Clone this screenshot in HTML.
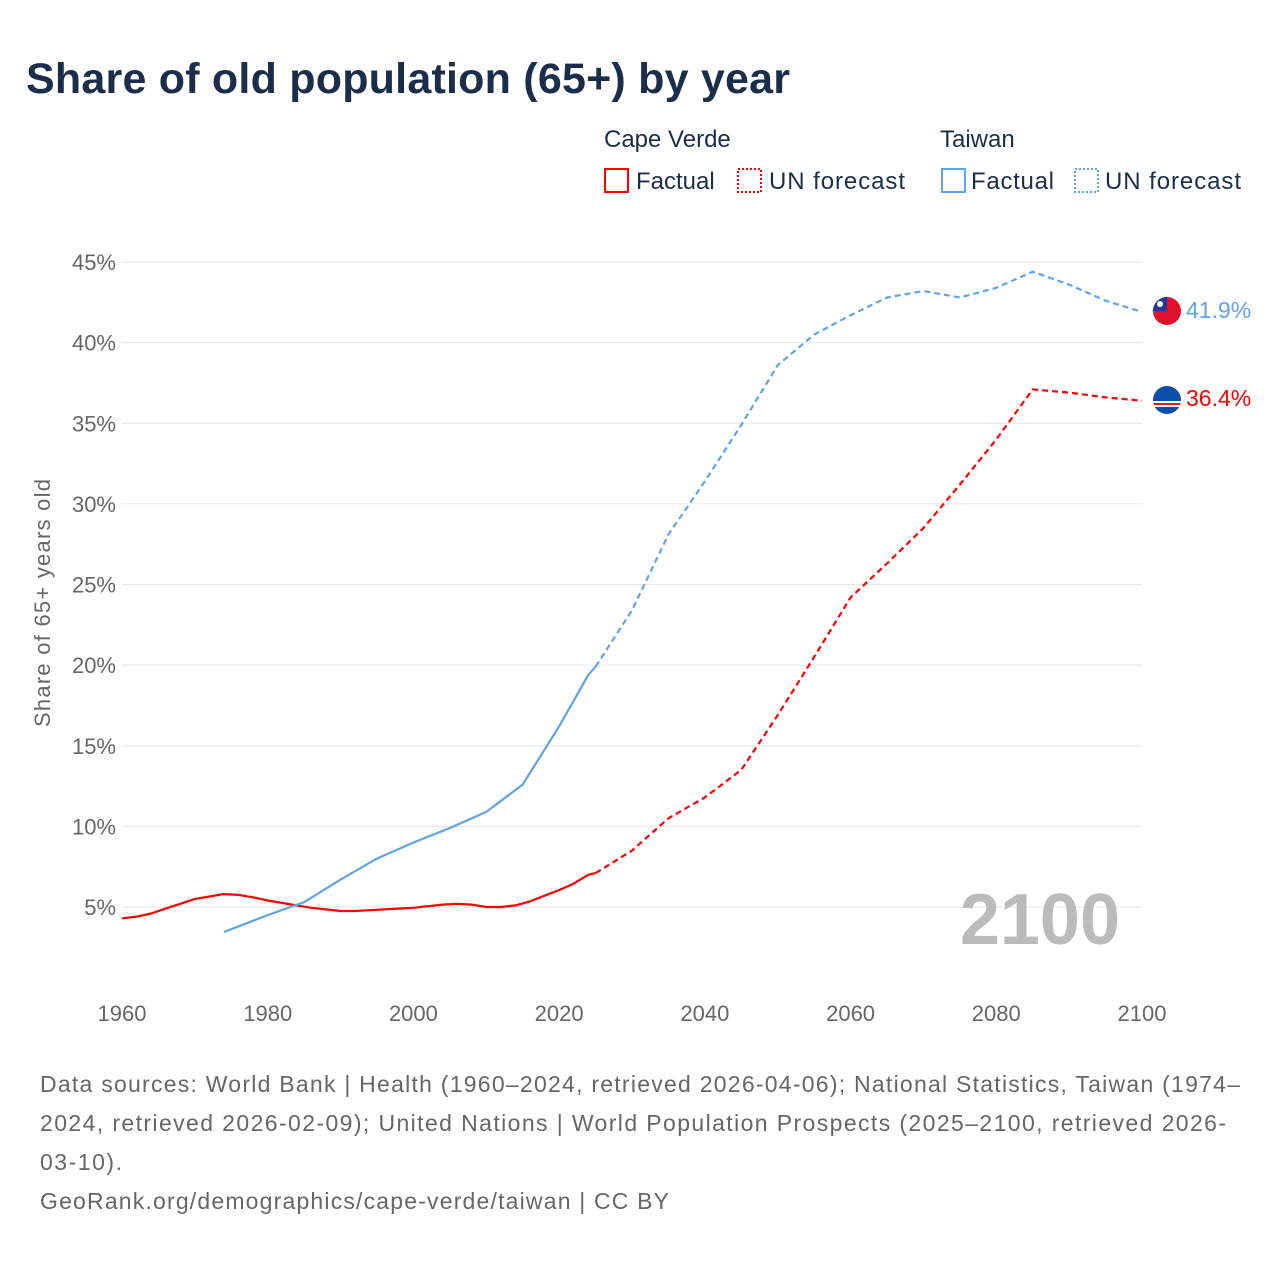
<!DOCTYPE html>
<html><head><meta charset="utf-8"><style>
body{margin:0;width:1280px;height:1280px;background:#fff;font-family:"Liberation Sans",sans-serif;overflow:hidden}
</style></head><body>
<svg width="1280" height="1280" xmlns="http://www.w3.org/2000/svg" font-family="Liberation Sans, sans-serif">
<text x="26" y="93" font-size="43" font-weight="bold" fill="#1a2e4c" textLength="764">Share of old population (65+) by year</text>
<g font-size="24" fill="#1a2e4c">
<text x="604" y="147">Cape Verde</text>
<text x="940" y="147">Taiwan</text>
<rect x="605" y="169" width="23" height="23" fill="none" stroke="#f00" stroke-width="2"/>
<text x="636" y="189">Factual</text>
<rect x="738" y="169" width="23" height="23" fill="none" stroke="#f00" stroke-width="2" stroke-dasharray="2,2"/>
<text x="769" y="189" textLength="136">UN forecast</text>
<rect x="942" y="169" width="23" height="23" fill="none" stroke="#5ea4e8" stroke-width="2"/>
<text x="971" y="189" textLength="83">Factual</text>
<rect x="1075" y="169" width="23" height="23" fill="none" stroke="#5ea4e8" stroke-width="2" stroke-dasharray="2,2"/>
<text x="1105" y="189" textLength="136">UN forecast</text>
</g>
<g id="grid"></g><g id="axes"></g><g id="series"></g>
<text x="1120" y="944" font-size="72" font-weight="bold" fill="#bbb" text-anchor="end">2100</text>
<text transform="translate(50,603) rotate(-90)" font-size="22" fill="#666" text-anchor="middle" textLength="248">Share of 65+ years old</text>
<g font-size="23" fill="#666">
<text x="40" y="1092" textLength="1200">Data sources: World Bank | Health (1960–2024, retrieved 2026-04-06); National Statistics, Taiwan (1974–</text>
<text x="40" y="1131" textLength="1186">2024, retrieved 2026-02-09); United Nations | World Population Prospects (2025–2100, retrieved 2026-</text>
<text x="40" y="1170" textLength="82">03-10).</text>
<text x="40" y="1209" textLength="629">GeoRank.org/demographics/cape-verde/taiwan | CC BY</text>
</g>
<defs>
<clipPath id="c1"><circle cx="1167" cy="311" r="14"/></clipPath>
<clipPath id="c2"><circle cx="1167" cy="400" r="14"/></clipPath>
</defs>
<g clip-path="url(#c1)">
<rect x="1153" y="297" width="28" height="28" fill="#e0102c"/><rect x="1153" y="297" width="14" height="14" fill="#1d3a9e"/><circle cx="1160" cy="304" r="3" fill="#fff"/>
</g>
<g clip-path="url(#c2)">
<rect x="1153" y="386" width="28" height="28" fill="#0a4eaa"/><rect x="1153" y="401" width="28" height="6" fill="#fff"/><rect x="1153" y="403" width="28" height="2" fill="#e02020"/>
</g>
<text x="1186" y="318" font-size="23" fill="#5ea4e8">41.9%</text>
<text x="1186" y="406" font-size="23" fill="#f00">36.4%</text>
</svg>
<script>
const yTicks=[5,10,15,20,25,30,35,40,45];
const xTicks=[1960,1980,2000,2020,2040,2060,2080,2100];
const cvYearsF=[1960,1962,1964,1966,1968,1970,1972,1974,1976,1978,1980,1982,1984,1986,1988,1990,1992,1994,1996,1998,2000,2002,2004,2006,2008,2010,2012,2014,2016,2018,2020,2022,2024,2025];
const cvValsF=[4.3,4.4,4.6,4.9,5.2,5.5,5.65,5.8,5.75,5.6,5.4,5.25,5.1,4.95,4.85,4.75,4.75,4.8,4.85,4.9,4.95,5.05,5.15,5.2,5.15,5.0,5.0,5.1,5.35,5.7,6.05,6.45,7.0,7.1];
const fcYears=[2025,2030,2035,2040,2045,2050,2055,2060,2065,2070,2075,2080,2085,2090,2095,2100];
const cvValsP=[7.1,8.5,10.5,11.8,13.5,16.9,20.5,24.2,26.3,28.5,31.2,34.0,37.1,36.9,36.6,36.4];
const twYearsF=[1974,1980,1985,1990,1995,2000,2005,2010,2015,2020,2024,2025];
const twValsF=[3.45,4.5,5.3,6.7,8.0,9.0,9.9,10.9,12.6,16.2,19.4,19.9];
const twValsP=[19.9,23.4,28.1,31.4,34.9,38.6,40.5,41.7,42.8,43.2,42.8,43.4,44.4,43.6,42.6,41.9];
const NS="http://www.w3.org/2000/svg";
const X=y=>122+(y-1960)*(1020/140);
const Y=v=>907-(v-5)*(645/40);
function mk(t,a,p){const e=document.createElementNS(NS,t);for(const k in a)e.setAttribute(k,a[k]);document.getElementById(p).appendChild(e);return e;}
yTicks.forEach(v=>{
 const l=mk('line',{x1:122,x2:1142,y1:Y(v),y2:Y(v),stroke:'#e6e6e6','stroke-width':1},'grid');
 
 
 const t=mk('text',{x:116,y:Y(v)+8,'font-size':22,fill:'#666','text-anchor':'end'},'axes');t.textContent=v+'%';
 
 
});
xTicks.forEach(y=>{
 const t=mk('text',{x:X(y),y:1021,'font-size':22,fill:'#666','text-anchor':'middle'},'axes');t.textContent=y;
 
 
});
function line(xs,vs,col,dash,name){
 const d=xs.map((y,i)=>(i?'L':'M')+X(y).toFixed(1)+','+Y(vs[i]).toFixed(1)).join('');
 const p=mk('path',{d:d,fill:'none',stroke:col,'stroke-width':2.2,'stroke-linejoin':'round'},'series');
 if(dash)p.setAttribute('stroke-dasharray','6,4');
 
 
}
line(cvYearsF,cvValsF,'#f00',false,'cape-verde-factual-line');
line(fcYears,cvValsP,'#f00',true,'cape-verde-forecast-line');
line(twYearsF,twValsF,'#5ea4e8',false,'taiwan-factual-line');
line(fcYears,twValsP,'#5ea4e8',true,'taiwan-forecast-line');
</script>
</body></html>
